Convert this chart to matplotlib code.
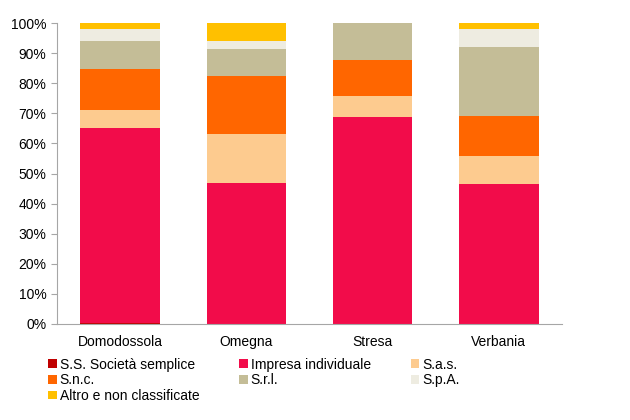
import matplotlib.pyplot as plt
import numpy as np
from matplotlib.ticker import PercentFormatter

plt.rcParams['font.family'] = ['Liberation Sans', 'DejaVu Sans']

cities = ["Domodossola", "Omegna", "Stresa", "Verbania"]
labels = ["S.S. Società semplice", "Impresa individuale", "S.a.s.",
          "S.n.c.", "S.r.l.", "S.p.A.", "Altro e non classificate"]
colors = ["#C00000", "#F20C4A", "#FDCB8F", "#FF6600", "#C4BD97", "#EEECE1", "#FFC000"]

# percent shares per city, in label order
ss = [0.2, 0.1, 0.1, 0.1]
impresa = [65.1, 46.8, 68.8, 46.4]
sas = [5.8, 16.1, 6.9, 9.3]
snc = [13.5, 19.4, 11.9, 13.2]
srl = [9.5, 8.9, 12.2, 22.9]
spa = [4.0, 2.8, 0.1, 6.1]
altro = [1.9, 5.9, 0.1, 2.0]
series = [ss, impresa, sas, snc, srl, spa, altro]

fig = plt.figure(figsize=(6.3, 4.2), dpi=100)
ax = fig.add_axes([0.0905, 0.2286, 0.8015, 0.7164])

x = np.arange(len(cities))
bottom = np.zeros(len(cities))
bars = []
for vals, c, lab in zip(series, colors, labels):
    b = ax.bar(x, vals, 0.63, bottom=bottom, color=c, label=lab, linewidth=0)
    bars.append(b)
    bottom += np.array(vals)

ax.set_xlim(-0.5, len(cities) - 0.5)
ax.set_ylim(0, 100)
ax.set_yticks(np.arange(0, 101, 10))
ax.yaxis.set_major_formatter(PercentFormatter(decimals=0))
ax.set_xticks(x)
ax.set_xticklabels(cities)
ax.tick_params(axis='x', length=0, labelsize=10, pad=8)
ax.tick_params(axis='y', length=4, color='#A6A6A6', labelsize=10, direction='out')
for s in ['top', 'right']:
    ax.spines[s].set_visible(False)
for s in ['left', 'bottom']:
    ax.spines[s].set_color('#A6A6A6')

# legend is filled row by row in the original
order = [0, 3, 6, 1, 4, 2, 5]
fig.legend(handles=[bars[i] for i in order], loc='upper left',
           bbox_to_anchor=(0.068, 0.162), ncol=3,
           frameon=False, fontsize=10, handlelength=0.6, handleheight=0.6,
           handletextpad=0.2, columnspacing=2.9, labelspacing=0.12, borderaxespad=0)

fig.savefig("out.png", dpi=100)
